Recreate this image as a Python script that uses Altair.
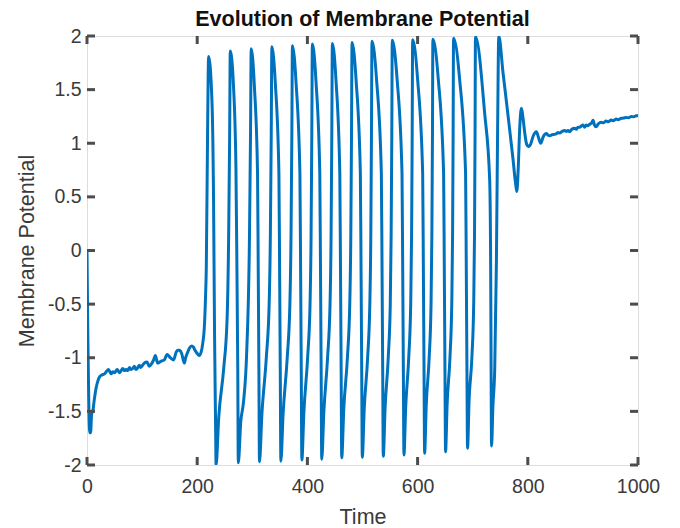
import altair as alt
import pandas as pd

# ---- data ----
# initial transient and noisy baseline (t, v)
base_t = [0, 1.5, 3.5, 5, 6.5, 8.5, 10.5, 13, 16.6, 19.5, 22.6, 27, 31.7, 35, 38.9, 43.8,
          47, 49.8, 54.7, 58.9, 62, 64.9, 68, 71, 74, 77, 80, 83, 86, 88.5, 91, 95, 97,
          99.3, 104, 109, 113, 118, 121, 124, 128.3, 132, 135.5, 140.4, 145.3, 148, 151.3,
          157.3, 161.6, 164.5, 167.6, 171.8, 176.6, 179, 182.6, 186, 189.9, 193, 196, 200,
          203.5, 207, 210.5, 212.9, 215, 216.5, 218.8]
base_v = [0.0, -0.8, -1.5, -1.70, -1.70, -1.52, -1.50, -1.40, -1.28, -1.22, -1.18, -1.16,
          -1.15, -1.13, -1.11, -1.15, -1.13, -1.14, -1.11, -1.14, -1.12, -1.10, -1.12, -1.11,
          -1.12, -1.09, -1.11, -1.10, -1.08, -1.11, -1.10, -1.07, -1.09, -1.08, -1.05, -1.04,
          -1.08, -1.05, -1.02, -0.98, -1.05, -1.04, -1.03, -1.02, -0.97, -0.98, -1.00, -1.02,
          -0.95, -0.93, -0.93, -0.96, -1.05, -1.00, -0.95, -0.91, -0.89, -0.90, -0.93, -0.96,
          -0.98, -0.95, -0.85, -0.72, -0.45, -0.16, 1.08]

# spiking train (t, v)
spike_t = [220.7, 226.8, 229.7, 231.5, 233.2, 234.3, 239.0, 248.1, 254.3, 257.1, 258.9,
           260.0, 265.8, 270.3, 272.1, 273.6, 274.6, 279.0, 284.1, 289.9, 294.9, 296.8,
           298.0, 303.8, 309.5, 310.8, 312.0, 313.0, 317.5, 325.4, 330.6, 332.8, 334.4,
           335.5, 341.9, 348.3, 349.6, 350.8, 351.8, 356.0, 363.4, 368.2, 370.3, 371.8,
           372.8, 379.6, 386.4, 387.7, 388.9, 389.9, 393.7, 400.4, 404.8, 406.7, 408.0,
           409.0, 415.8, 422.5, 423.8, 425.0, 426.0, 429.9, 436.6, 441.1, 443.0, 444.3,
           445.3, 452.1, 458.8, 460.1, 461.3, 462.3, 466.0, 472.6, 476.9, 478.8, 480.1,
           481.0, 488.6, 496.1, 497.4, 498.6, 499.6, 503.1, 509.3, 513.3, 515.1, 516.3,
           517.2, 525.7, 534.2, 535.5, 536.7, 537.7, 541.0, 546.7, 550.4, 552.0, 553.2,
           554.0, 562.9, 571.7, 573.0, 574.2, 575.2, 578.4, 583.9, 587.5, 589.1, 590.2,
           591.0, 600.1, 609.2, 610.5, 611.7, 612.7, 615.7, 621.0, 624.4, 625.9, 627.0,
           627.7, 637.5, 647.2, 648.5, 649.7, 650.7, 653.6, 658.7, 662.0, 663.5, 664.5,
           665.2, 676.2, 687.1, 688.4, 689.6, 690.6, 693.5, 698.5, 701.8, 703.3, 704.3,
           705.0, 721.7, 730.8, 732.6, 733.4, 734.2, 736.7, 740.0, 743.0, 745.2,
           747.3]
spike_v = [1.81, 1.39, 0.46, -0.79, -1.55, -2.0, -1.56, -1.10, -0.63, 0.14, 1.08,
           1.86, 1.54, 0.77, -0.16, -1.10, -1.98, -1.60, -1.41, -0.94, 0.14, 1.10,
           1.88, 1.53, 0.72, -0.20, -1.15, -1.97, -1.52, -1.00, -0.50, 0.15, 1.10,
           1.90, 1.55, 0.72, -0.20, -1.15, -1.965, -1.515, -1.00, -0.50, 0.15, 1.10,
           1.91, 1.55, 0.72, -0.20, -1.15, -1.953, -1.50, -1.00, -0.50, 0.15, 1.10,
           1.925, 1.56, 0.72, -0.20, -1.15, -1.947, -1.50, -1.00, -0.50, 0.15, 1.10,
           1.93, 1.57, 0.72, -0.20, -1.15, -1.932, -1.48, -1.00, -0.50, 0.15, 1.10,
           1.94, 1.57, 0.72, -0.20, -1.15, -1.928, -1.48, -1.00, -0.50, 0.15, 1.10,
           1.95, 1.58, 0.72, -0.20, -1.15, -1.919, -1.47, -1.00, -0.50, 0.15, 1.10,
           1.96, 1.59, 0.72, -0.20, -1.15, -1.907, -1.46, -1.00, -0.50, 0.15, 1.10,
           1.965, 1.59, 0.72, -0.20, -1.15, -1.891, -1.44, -1.00, -0.50, 0.15, 1.10,
           1.97, 1.60, 0.72, -0.20, -1.15, -1.876, -1.43, -1.00, -0.50, 0.15, 1.10,
           1.98, 1.60, 0.72, -0.20, -1.15, -1.844, -1.39, -1.00, -0.50, 0.15, 1.10,
           1.995, 1.28, 0.66, -0.15, -1.10, -1.823, -1.45, -1.10, -0.12, 1.12,
           2.0]

# recovery and noisy upper plateau (t, v)
tail_t = [755.0, 765.0, 773.0, 777.5, 780.1, 782.5, 785.3, 788.4, 791.0, 794.4, 798.0,
          801.6, 805.0, 810.0, 815.6, 819.0, 823.4, 828.0, 833.7, 837, 840, 844, 848.7,
          852, 855, 858, 862, 866.8, 870, 873, 876, 880, 885, 888, 891, 894, 897, 900,
          903, 906, 909, 913, 916, 918.5, 921, 924, 928, 933, 937, 942, 946, 951.4, 955,
          960.5, 964, 969.6, 974, 978.6, 983, 987.7, 992, 996.7, 1000]
tail_v = [1.66, 1.22, 0.86, 0.64, 0.55, 0.75, 1.14, 1.326, 1.25, 1.10, 0.99,
          0.968, 0.99, 1.07, 1.108, 1.06, 1.00, 1.06, 1.09, 1.075, 1.07, 1.08, 1.083,
          1.09, 1.10, 1.095, 1.11, 1.12, 1.11, 1.12, 1.108, 1.13, 1.14, 1.13, 1.15, 1.149,
          1.16, 1.17, 1.15, 1.17, 1.164, 1.18, 1.19, 1.215, 1.17, 1.154, 1.18, 1.195, 1.19,
          1.207, 1.20, 1.216, 1.21, 1.226, 1.22, 1.233, 1.235, 1.24, 1.238, 1.25, 1.247,
          1.257, 1.26]

x_ticks = [0, 200, 400, 600, 800, 1000]
y_ticks = [-2, -1.5, -1, -0.5, 0, 0.5, 1, 1.5, 2]
title_text = ["Evolution of Membrane Potential"]

# ---- chart ----
W, H = 551, 429
FONT = "Liberation Sans"
FRAME = "#4d4d4d"
LABEL = "#3a3a3a"

df = pd.DataFrame({"t": base_t + spike_t + tail_t, "v": base_v + spike_v + tail_v})
df["i"] = range(len(df))
xt = pd.DataFrame({"xt": x_ticks})
yt = pd.DataFrame({"yt": y_ticks})
tt = pd.DataFrame({"title": title_text})

xscale = alt.Scale(domain=[0, 1000], nice=False, zero=False)
yscale = alt.Scale(domain=[-2, 2], nice=False, zero=False)

line = alt.Chart(df).mark_line(color="#0072BD", strokeWidth=3, clip=True,
                               interpolate="monotone").encode(
    x=alt.X("t:Q", scale=xscale, title="Time",
            axis=alt.Axis(values=x_ticks, ticks=False, domain=False, grid=False,
                          format="d",
                          labelFontSize=19.5, labelFont=FONT, labelColor=LABEL,
                          labelPadding=12, titleFontSize=21.5, titleFont=FONT,
                          titleFontWeight="normal", titleColor=LABEL, titlePadding=11,
                          labelFlush=False)),
    y=alt.Y("v:Q", scale=yscale, title="Membrane Potential",
            axis=alt.Axis(values=y_ticks, ticks=False, domain=False, grid=False,
                          labelFontSize=19.5, labelFont=FONT, labelColor=LABEL,
                          labelPadding=6, titleFontSize=21.5, titleFont=FONT,
                          titleFontWeight="normal", titleColor=LABEL, titlePadding=9,
                          labelFlush=False,
                          labelExpr="datum.value < 0 ? '-' + format(-datum.value, '~g') : format(datum.value, '~g')")),
    order="i:Q",
)

tl = 8
bottom_ticks = alt.Chart(xt).mark_rule(color=FRAME, strokeWidth=3).encode(
    x=alt.X("xt:Q", scale=xscale), y=alt.value(H), y2=alt.value(H - tl))
top_ticks = alt.Chart(xt).mark_rule(color=FRAME, strokeWidth=3).encode(
    x=alt.X("xt:Q", scale=xscale), y=alt.value(0), y2=alt.value(tl))
left_ticks = alt.Chart(yt).mark_rule(color=FRAME, strokeWidth=3).encode(
    y=alt.Y("yt:Q", scale=yscale), x=alt.value(0), x2=alt.value(tl))
right_ticks = alt.Chart(yt).mark_rule(color=FRAME, strokeWidth=3).encode(
    y=alt.Y("yt:Q", scale=yscale), x=alt.value(W), x2=alt.value(W - tl))

title = alt.Chart(tt).mark_text(font=FONT, fontSize=21.5, fontWeight="bold",
                                color="#111111", align="center",
                                baseline="alphabetic").encode(
    text="title:N", x=alt.value(W / 2), y=alt.value(-10))

chart = alt.layer(line, bottom_ticks, top_ticks, left_ticks, right_ticks, title).properties(
    width=W, height=H,
    autosize=alt.AutoSizeParams(type="none"),
    padding={"left": 79, "top": 28, "right": 30, "bottom": 70},
).configure_view(stroke=FRAME, strokeWidth=3.3).configure(background="white")

chart.save("out.html", embed_options={"renderer": "svg", "actions": False})
